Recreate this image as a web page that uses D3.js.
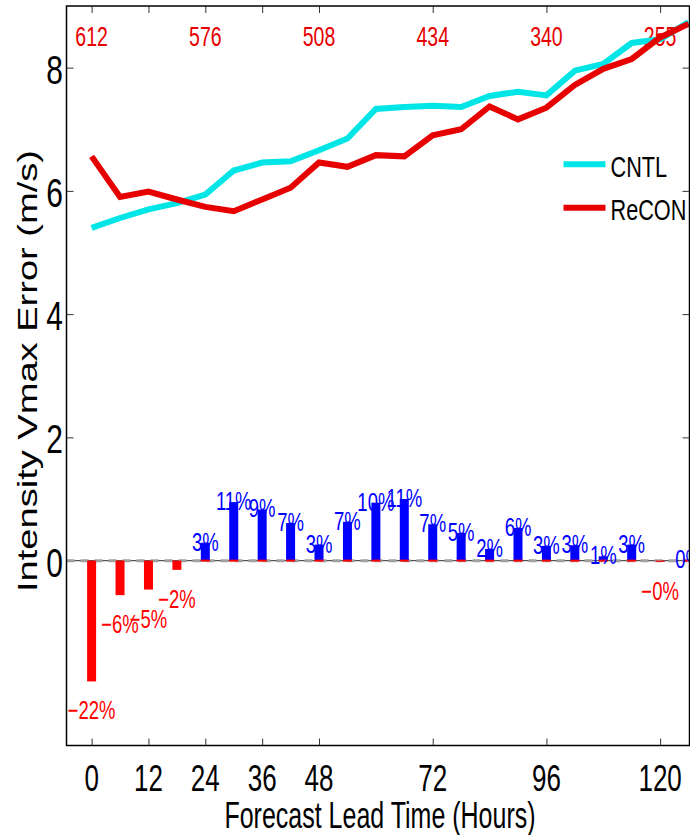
<!DOCTYPE html>
<html>
<head>
<meta charset="utf-8">
<script src="https://cdn.jsdelivr.net/npm/d3@7"></script>
<style>
  body { margin: 0; background: #fff; }
  svg { display: block; font-family: 'Liberation Sans', Arial, Helvetica, sans-serif; }
</style>
</head>
<body>
<div id="chart"></div>
<script>
// lead times (hours) and the two error curves (m/s)
const leadHours = [0, 6, 12, 18, 24, 30, 36, 42, 48, 54, 60, 66, 72, 78, 84, 90, 96, 102, 108, 114, 120, 126]
const cntlError = [5.40, 5.56, 5.70, 5.80, 5.94, 6.33, 6.46, 6.48, 6.66, 6.85, 7.33, 7.36, 7.38, 7.36, 7.54, 7.61, 7.55, 7.95, 8.06, 8.40, 8.46, 8.74]
const reconError = [6.56, 5.90, 5.99, 5.86, 5.74, 5.67, 5.86, 6.05, 6.46, 6.39, 6.58, 6.56, 6.90, 7.00, 7.37, 7.16, 7.35, 7.72, 7.98, 8.14, 8.49, 8.71]

// improvement bars (drawn in m/s units) and their percent labels
const diffBars = [-1.96, -0.56, -0.47, -0.15, 0.29, 0.95, 0.83, 0.61, 0.26, 0.63, 0.94, 1.00, 0.59, 0.45, 0.19, 0.53, 0.24, 0.25, 0.07, 0.26, -0.02, 0.01]
const diffPercent = [-22, -6, -5, -2, 3, 11, 9, 7, 3, 7, 10, 11, 7, 5, 2, 6, 3, 3, 1, 3, 0, 0]

// sample counts along the top
const countHours = [0, 24, 48, 72, 96, 120]
const sampleCounts = [612, 576, 508, 434, 340, 255]

const xTicks = [0, 12, 24, 36, 48, 72, 96, 120]
const yTicks = [0, 2, 4, 6, 8]
const seriesNames = ['CNTL', 'ReCON']
const seriesColors = ['#00e5e5', '#e60000']

const width = 690
const height = 835
const plot = { left: 66.5, right: 689.5, top: 6, bottom: 745.5 }

const svg = d3.select('#chart').append('svg')
  .attr('width', width)
  .attr('height', height)

svg.append('rect').attr('width', width).attr('height', height).attr('fill', '#fff')

const x = d3.scaleLinear().domain([-5.3, 126.2]).range([plot.left, plot.right])
const y = d3.scaleLinear().domain([-3, 9]).range([plot.bottom, plot.top])

const rows = leadHours.map((h, i) => ({
  h, cntl: cntlError[i], recon: reconError[i], bar: diffBars[i], pct: diffPercent[i]
}))

// ticks, drawn inward on all four sides
function add_ticks (axis, tx, ty) {
  const g = svg.append('g')
    .attr('transform', `translate(${tx},${ty})`)
    .call(axis.tickSizeInner(-7).tickSizeOuter(0).tickFormat(''))
  g.select('.domain').remove()
  g.selectAll('.tick line').attr('stroke', '#333').attr('stroke-width', 1)
  return g
}

add_ticks(d3.axisBottom(x).tickValues(xTicks), 0, plot.bottom)
add_ticks(d3.axisTop(x).tickValues(xTicks), 0, plot.top)
add_ticks(d3.axisLeft(y).tickValues(yTicks), plot.left, 0)
add_ticks(d3.axisRight(y).tickValues(yTicks), plot.right, 0)

// tick labels (the figure is stretched vertically, so text is too)
svg.append('g').selectAll('text').data(xTicks).enter().append('text')
  .attr('transform', d => `translate(${x(d)},${plot.bottom + 45.5}) scale(1,1.43)`)
  .attr('text-anchor', 'middle')
  .attr('font-size', 26)
  .text(d => d)

svg.append('g').selectAll('text').data(yTicks).enter().append('text')
  .attr('transform', d => `translate(63,${y(d) + 1.5}) scale(1,1.33)`)
  .attr('text-anchor', 'end')
  .attr('dy', '0.36em')
  .attr('font-size', 30)
  .text(d => d)

svg.append('text')
  .attr('transform', `translate(${(plot.left + plot.right) / 2 + 2},828) scale(1,1.45)`)
  .attr('text-anchor', 'middle')
  .attr('font-size', 25)
  .text('Forecast Lead Time (Hours)')

svg.append('text')
  .attr('transform', 'translate(36.5,371) rotate(-90) scale(1.36,1)')
  .attr('text-anchor', 'middle')
  .attr('font-size', 28)
  .text('Intensity Vmax Error (m/s)')

// sample counts
svg.append('g').selectAll('text').data(countHours).enter().append('text')
  .attr('transform', d => `translate(${x(d)},${plot.top + 39.7}) scale(1,1.42)`)
  .attr('text-anchor', 'middle')
  .attr('font-size', 19.5)
  .attr('fill', '#e60000')
  .text((d, i) => sampleCounts[i])

// zero line: solid + dashed grey
svg.append('line')
  .attr('x1', plot.left).attr('x2', plot.right)
  .attr('y1', y(0)).attr('y2', y(0))
  .attr('stroke', '#555').attr('stroke-width', 1.2)
svg.append('line')
  .attr('x1', plot.left).attr('x2', plot.right)
  .attr('y1', y(0)).attr('y2', y(0))
  .attr('stroke', '#a0a0a0').attr('stroke-width', 3)
  .attr('stroke-dasharray', '8,6')

// bars
const barHalf = 0.95
const bars = svg.append('g')
bars.selectAll('rect.bar').data(rows).enter().append('rect')
  .attr('class', 'bar')
  .attr('x', d => x(d.h - barHalf))
  .attr('width', d => x(d.h + barHalf) - x(d.h - barHalf))
  .attr('y', d => y(Math.max(0, d.bar)))
  .attr('height', d => Math.abs(y(d.bar) - y(0)))
  .attr('fill', d => d.bar < 0 ? '#ff0000' : '#0000ff')

// zero-height red bars show as a red edge at the base
bars.selectAll('rect.base').data(rows.filter(d => d.bar >= 0)).enter().append('rect')
  .attr('class', 'base')
  .attr('x', d => x(d.h - barHalf))
  .attr('width', d => x(d.h + barHalf) - x(d.h - barHalf))
  .attr('y', y(0) - 1)
  .attr('height', 2)
  .attr('fill', '#ff0000')

// percent labels
svg.append('g').selectAll('text').data(rows).enter().append('text')
  .attr('transform', d => d.bar < 0
    ? `translate(${x(d.h)},${y(d.bar) + 29}) scale(1,1.38)`
    : `translate(${x(d.h)},${y(d.bar) - 1}) scale(1,1.38)`)
  .attr('dy', 6.5)
  .attr('text-anchor', 'middle')
  .attr('font-size', 18.5)
  .attr('fill', d => d.bar < 0 ? '#ff0000' : '#0000ff')
  .text(d => (d.bar < 0 ? '\u2212' : '') + Math.abs(d.pct) + '%')

// error curves
const keys = ['cntl', 'recon']
keys.forEach((k, i) => {
  const line = d3.line()
    .x(d => x(d.h))
    .y(d => y(d[k]))
  svg.append('path')
    .attr('d', line(rows))
    .attr('fill', 'none')
    .attr('stroke', seriesColors[i])
    .attr('stroke-width', 6)
    .attr('stroke-linejoin', 'miter')
})

// legend
const legend = svg.append('g').attr('transform', `translate(${plot.right - 126},164.3)`)
seriesNames.forEach((name, i) => {
  const row = legend.append('g').attr('transform', `translate(0,${i * 43.4})`)
  row.append('line')
    .attr('x1', 0).attr('x2', 42)
    .attr('stroke', seriesColors[i])
    .attr('stroke-width', 6)
  row.append('text')
    .attr('transform', 'translate(47,1.5) scale(1,1.4)')
    .attr('dy', '0.36em')
    .attr('font-size', 21.7)
    .text(name)
})

// axes box
svg.append('rect')
  .attr('x', plot.left).attr('y', plot.top)
  .attr('width', plot.right - plot.left)
  .attr('height', plot.bottom - plot.top)
  .attr('fill', 'none')
  .attr('stroke', '#000')
  .attr('stroke-width', 1.5)
</script>
</body>
</html>
